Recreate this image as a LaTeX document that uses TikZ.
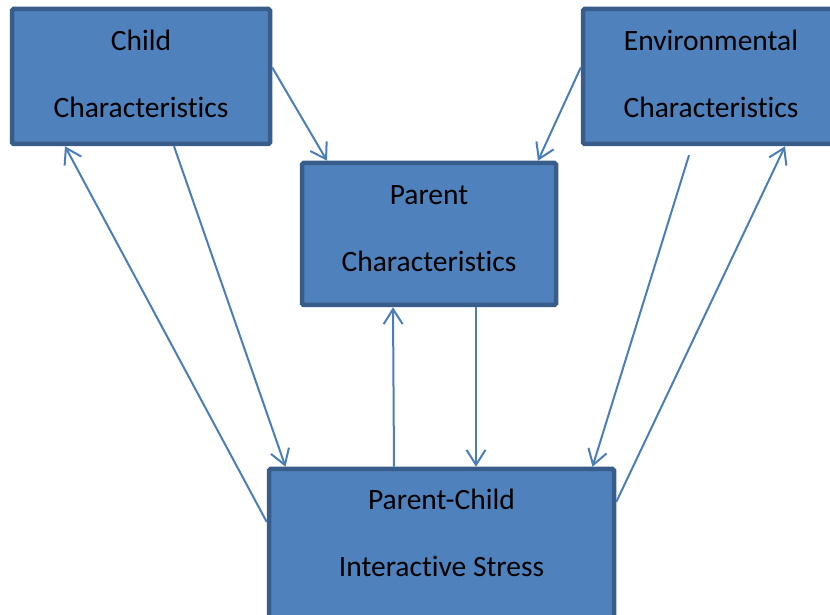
\documentclass[tikz,border=0pt]{standalone}
\usepackage{fontspec}
\setmainfont{Carlito}[Ligatures=NoCommon]
\usepackage[dvipsnames]{xcolor}
\definecolor{box_blue}{RGB}{79,129,189}
\definecolor{edge_blue}{RGB}{56,93,138}
\definecolor{line_blue}{RGB}{74,126,187}
\usepackage{tikz}
\usetikzlibrary{positioning, arrows.meta}
\tikzstyle{block} = [rectangle, rounded corners=1.5pt, line width=4.5pt, draw=edge_blue, fill=box_blue]
\tikzstyle{label} = [align=center, inner sep=0pt, font=\fontsize{29.5}{67}\selectfont]
\tikzstyle{arrow} = [line width=2pt, line_blue, -{Straight Barb[length=15pt, width=19pt]}]

\begin{document}
\begin{tikzpicture}[x=1pt, y=1pt]

    \useasboundingbox (0,0) rectangle (830,615);
    \clip (0,0) rectangle (830,615);

    \node[block, minimum width=258pt, minimum height=135pt] (child) at (141,538.5) {};
    \node[block, minimum width=256pt, minimum height=135pt] (env) at (711,538.5) {};
    \node[block, minimum width=254pt, minimum height=142pt] (parent) at (429,381) {};
    \node[block, minimum width=345pt, minimum height=152pt] (stress) at (441.5,70) {};

    % base anchor sits on the second line
    \node[label, anchor=base] (childtext) at ([yshift=-110.5pt]child.north) {Child\\Characteristics};
    \node[label, anchor=base] (envtext) at ([yshift=-110.5pt]env.north) {Environmental\\Characteristics};
    \node[label, anchor=base] (parenttext) at ([yshift=-110.5pt]parent.north) {Parent\\Characteristics};
    \node[label, anchor=base] (stresstext) at ([yshift=-109.5pt]stress.north) {Parent-Child\\Interactive Stress};

    \draw[arrow] ([yshift=9pt]child.east) to ([xshift=-102pt]parent.north);
    \draw[arrow] ([yshift=9pt]env.west) to ([xshift=109pt]parent.north);
    \draw[arrow] ([xshift=33pt]child.south) to ([xshift=-156pt]stress.north);
    \draw[arrow] ([yshift=23pt]stress.west) to ([xshift=-76pt]child.south);
    \draw[arrow] ([xshift=47pt]parent.south) to ([xshift=34.5pt]stress.north);
    \draw[arrow] ([xshift=-47.5pt]stress.north) to ([xshift=-36pt]parent.south);
    \draw[arrow] ([xshift=-22pt, yshift=-9pt]env.south) to ([xshift=151pt]stress.north);
    \draw[arrow] ([yshift=43pt]stress.east) to ([xshift=74pt]env.south);

\end{tikzpicture}
\end{document}
